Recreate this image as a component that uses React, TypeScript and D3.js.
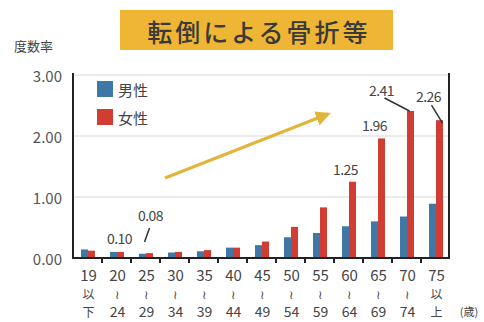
import React from "react";
import * as d3 from "d3";

const categories = ["19以下", "20-24", "25-29", "30-34", "35-39", "40-44", "45-49", "50-54", "55-59", "60-64", "65-69", "70-74", "75以上"];
const labelTop = ["19", "20", "25", "30", "35", "40", "45", "50", "55", "60", "65", "70", "75"];
const labelMid = ["以", "≀", "≀", "≀", "≀", "≀", "≀", "≀", "≀", "≀", "≀", "≀", "以"];
const labelBot = ["下", "24", "29", "34", "39", "44", "49", "54", "59", "64", "69", "74", "上"];
const male = [0.14, 0.10, 0.07, 0.09, 0.11, 0.17, 0.21, 0.34, 0.41, 0.52, 0.60, 0.68, 0.89];
const female = [0.12, 0.10, 0.08, 0.10, 0.13, 0.17, 0.27, 0.51, 0.83, 1.25, 1.96, 2.41, 2.26];
const yTicks = [0, 1, 2, 3];
const seriesNames = ["男性", "女性"];
const title = "転倒による骨折等";

const W = 484, H = 322;
const FONT = "'Noto Sans CJK JP', 'Noto Sans', sans-serif";
const BLUE = "#3f77a6";
const RED = "#d13c33";

export default function App() {
  const x = d3.scaleBand<string>().domain(categories).range([73, 450]);
  const y = d3.scaleLinear().domain([0, 3]).range([258, 75]);
  const bw = 7;
  const fmt = d3.format(".2f");
  const cx = (i: number) => (x(categories[i]) as number) + x.bandwidth() / 2 + 0.5;

  const ann = [
    { i: 1, dx: -1, dy: -14, leader: null as null | number[] },
    { i: 2, dx: 1, dy: -38, leader: [0, -25, -5, -11] },
    { i: 9, dx: -7, dy: -13, leader: null },
    { i: 10, dx: -7, dy: -13, leader: null },
    { i: 11, dx: -29, dy: -21, leader: [-26, -13, -1, 0] },
    { i: 12, dx: -11, dy: -24, leader: [-8, -15, 3, 3] },
  ];

  return (
    <svg width={W} height={H} style={{ position: "absolute", left: 0, top: 0, background: "#fff" }} fontFamily={FONT}>
      <rect x={120} y={10} width={273} height={40} fill="#efb535" />
      <text x={259} y={31} textAnchor="middle" dominantBaseline="central" fontSize={25} fill="#3a3a3a" fontWeight={500} letterSpacing={3}>{title}</text>
      <text x={14} y={45} dominantBaseline="central" fontSize={13} fill="#444">度数率</text>

      {yTicks.map((t) => (
        <g key={t}>
          {t > 0 && <line x1={73} x2={450} y1={y(t)} y2={y(t)} stroke="#d8d8d8" strokeWidth={1.2} />}
          <text x={62} y={y(t)} textAnchor="end" dominantBaseline="central" fontSize={15} fill="#555">{fmt(t)}</text>
        </g>
      ))}

      {categories.map((c, i) => (
        <g key={c}>
          <rect x={cx(i) - bw} y={y(male[i])} width={bw} height={y(0) - y(male[i])} fill={BLUE} />
          <rect x={cx(i)} y={y(female[i])} width={bw} height={y(0) - y(female[i])} fill={RED} />
        </g>
      ))}

      <line x1={73} x2={73} y1={73} y2={259} stroke="#222" strokeWidth={2} />
      <line x1={449} x2={449} y1={73} y2={259} stroke="#222" strokeWidth={2} />
      <line x1={72} x2={450} y1={258} y2={258} stroke="#222" strokeWidth={2} />
      {categories.slice(1).map((c) => (
        <line key={c} x1={x(c) as number} x2={x(c) as number} y1={258} y2={263} stroke="#222" strokeWidth={2} />
      ))}

      {categories.map((c, i) => {
        const xc = (x(c) as number) + x.bandwidth() / 2 + 1;
        return (
          <g key={"l" + c} fill="#444" textAnchor="middle">
            <text x={xc} y={274} dominantBaseline="central" fontSize={15}>{labelTop[i]}</text>
            <text x={xc} y={293} dominantBaseline="central" fontSize={12}>{labelMid[i]}</text>
            <text x={xc} y={311} dominantBaseline="central" fontSize={labelBot[i].length > 1 ? 14 : 12}>{labelBot[i]}</text>
          </g>
        );
      })}
      <text x={469} y={311} textAnchor="middle" dominantBaseline="central" fontSize={11} fill="#444">(歳)</text>

      {seriesNames.map((s, k) => (
        <g key={s}>
          <rect x={97} y={81 + k * 28} width={16} height={16} fill={k === 0 ? BLUE : RED} />
          <text x={118} y={89 + k * 28} dominantBaseline="central" fontSize={15} fill="#444">{s}</text>
        </g>
      ))}

      <defs>
        <marker id="ah" viewBox="0 0 10 10" refX={8} refY={5} markerWidth={5} markerHeight={5} orient="auto">
          <path d="M0,0 L10,5 L0,10 Z" fill="#e0b53a" />
        </marker>
      </defs>
      <line x1={165} y1={178} x2={328} y2={114} stroke="#e0b53a" strokeWidth={3} markerEnd="url(#ah)" />

      {ann.map((a) => {
        const v = female[a.i];
        const bx = cx(a.i) + bw / 2;
        const by = y(v);
        return (
          <g key={"a" + a.i}>
            <text x={bx + a.dx} y={by + a.dy} textAnchor="middle" dominantBaseline="central" fontSize={14} fill="#444" letterSpacing={-0.5}>{fmt(v)}</text>
            {a.leader && (
              <line x1={bx + a.leader[0]} y1={by + a.leader[1]} x2={bx + a.leader[2]} y2={by + a.leader[3]} stroke="#333" strokeWidth={1.5} />
            )}
          </g>
        );
      })}
    </svg>
  );
}
